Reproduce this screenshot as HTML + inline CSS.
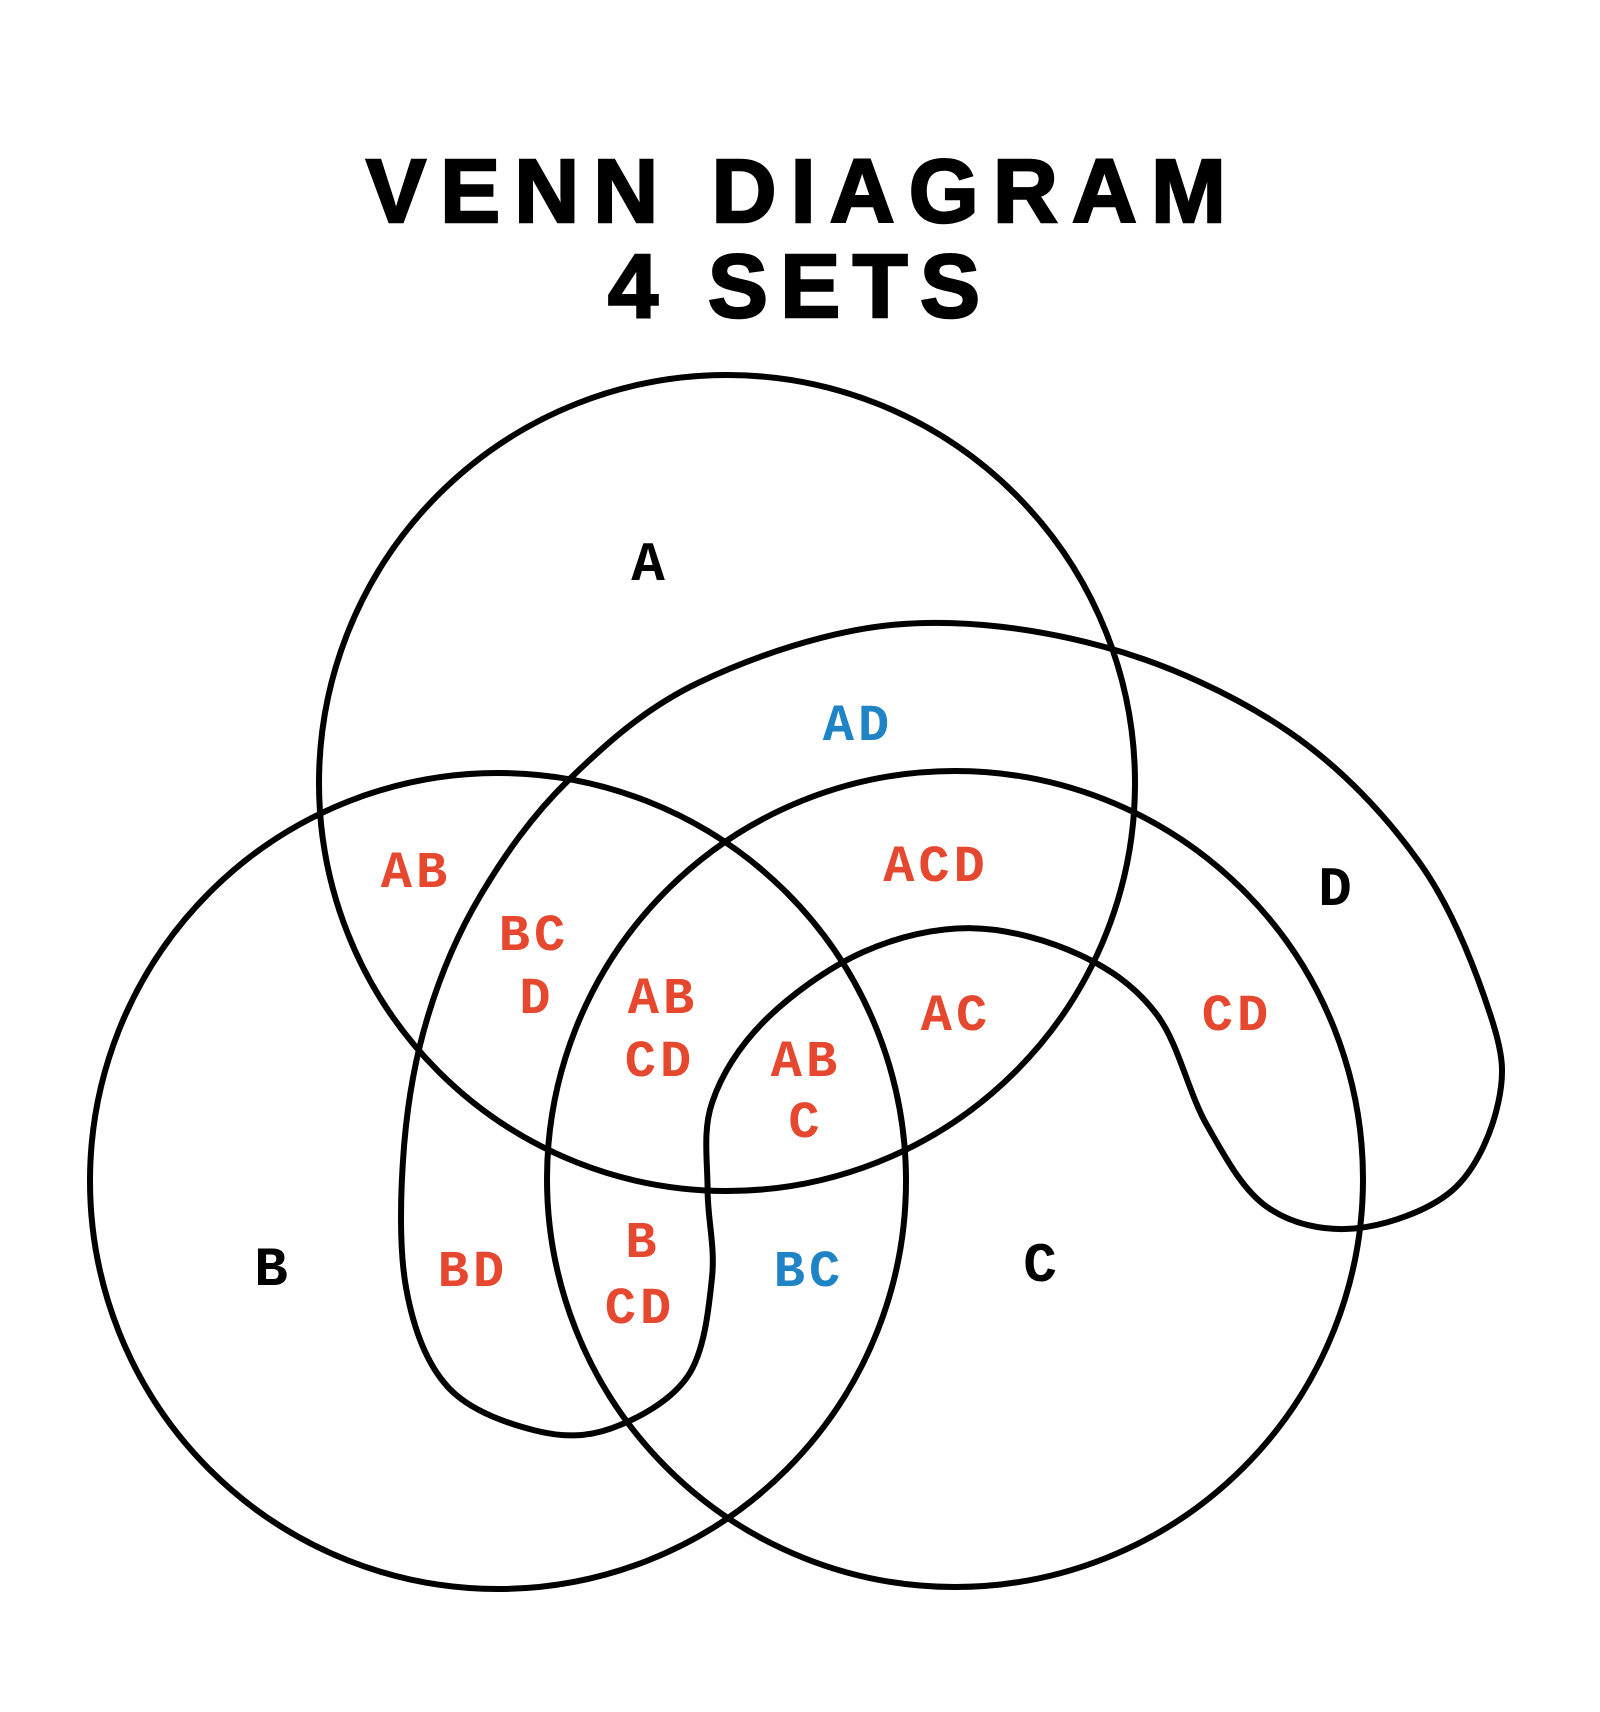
<!DOCTYPE html>
<html><head><meta charset="utf-8"><style>
html,body{margin:0;padding:0;background:#fff;}
svg{display:block;}
.t{font-family:"Liberation Sans",Arial,sans-serif;font-weight:bold;font-size:90px;fill:#000;stroke:#000;stroke-width:2.5px;}
.l{font-family:"Liberation Mono","Courier New",monospace;font-weight:bold;font-size:52px;text-anchor:middle;letter-spacing:4px;}
.r{fill:#e5482e;}
.b{fill:#1f84c6;}
.k{fill:#000;font-size:56px;}
</style></head><body>
<svg width="1600" height="1712" viewBox="0 0 1600 1712" xmlns="http://www.w3.org/2000/svg">
<rect width="1600" height="1712" fill="#fff"/>
<text class="t" x="366" y="222" textLength="860" lengthAdjust="spacing">VENN DIAGRAM</text>
<text class="t" x="608" y="317" textLength="372" lengthAdjust="spacing">4 SETS</text>
<g fill="none" stroke="#000" stroke-width="6">
<circle cx="727" cy="783" r="408"/>
<circle cx="498" cy="1181" r="408"/>
<circle cx="955" cy="1179" r="408"/>
<path id="dp" d=""/>
</g>
<g class="l">
<text class="k" x="650" y="580">A</text>
<text class="k" x="273" y="1285">B</text>
<text class="k" x="1042" y="1281">C</text>
<text class="k" x="1337" y="905">D</text>
<text class="b" x="858" y="740">AD</text>
<text class="r" x="416" y="887">AB</text>
<text class="r" x="936" y="881">ACD</text>
<text class="r" x="534" y="950">BC</text>
<text class="r" x="537" y="1013">D</text>
<text class="r" x="663" y="1013">AB</text>
<text class="r" x="660" y="1076">CD</text>
<text class="r" x="806" y="1076">AB</text>
<text class="r" x="806" y="1137">C</text>
<text class="r" x="956" y="1030">AC</text>
<text class="r" x="1237" y="1030">CD</text>
<text class="r" x="473" y="1286">BD</text>
<text class="r" x="643" y="1257">B</text>
<text class="r" x="640" y="1323">CD</text>
<text class="b" x="809" y="1286">BC</text>
</g>
</svg>
<script>
var Q=[[820,572],[1010,592],[1180,670],[1300,790],[1365,930],[1372,1010],[1330,1090],[1240,1125],[1160,1105],[1105,1030],[1060,930],[990,875],[890,850],[790,872],[700,935],[652,1010],[648,1090],[652,1170],[630,1260],[560,1308],[490,1310],[410,1270],[372,1180],[370,1050],[392,930],[440,820],[520,715],[640,625]];
var s=1.092,P=Q.map(function(p){return [p[0]*s,p[1]*s];});
var n=P.length,d="M"+P[0][0].toFixed(1)+","+P[0][1].toFixed(1);
for(var i=0;i<n;i++){var p0=P[(i-1+n)%n],p1=P[i],p2=P[(i+1)%n],p3=P[(i+2)%n];
var c1=[p1[0]+(p2[0]-p0[0])/6,p1[1]+(p2[1]-p0[1])/6],c2=[p2[0]-(p3[0]-p1[0])/6,p2[1]-(p3[1]-p1[1])/6];
d+=" C"+c1[0].toFixed(1)+","+c1[1].toFixed(1)+" "+c2[0].toFixed(1)+","+c2[1].toFixed(1)+" "+p2[0].toFixed(1)+","+p2[1].toFixed(1);}
document.getElementById("dp").setAttribute("d",d+"Z");
</script>
</body></html>
